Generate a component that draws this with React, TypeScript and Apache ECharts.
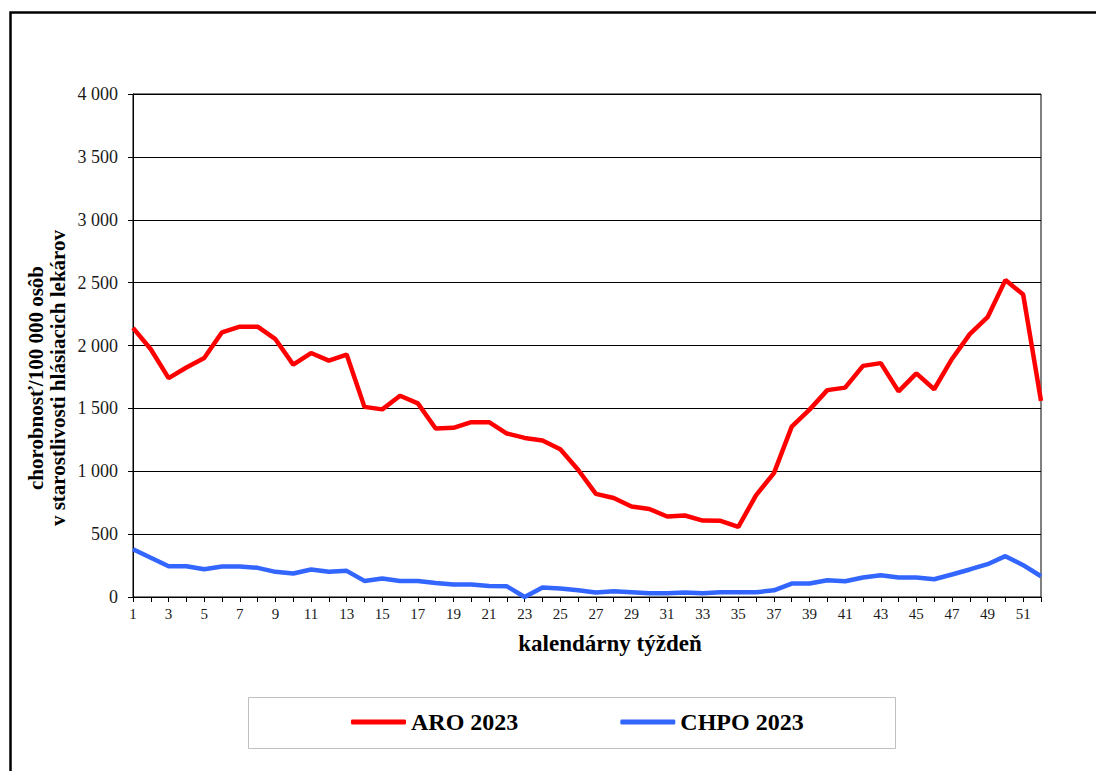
import React, { useEffect, useRef } from "react";
import * as echarts from "echarts";

const weeks = [
  "1", "2", "3", "4", "5", "6", "7", "8", "9", "10",
  "11", "12", "13", "14", "15", "16", "17", "18", "19", "20",
  "21", "22", "23", "24", "25", "26", "27", "28", "29", "30",
  "31", "32", "33", "34", "35", "36", "37", "38", "39", "40",
  "41", "42", "43", "44", "45", "46", "47", "48", "49", "50",
  "51", "52",
];

const aro2023 = [
  2140, 1970, 1740, 1825, 1900, 2105, 2150, 2150, 2050, 1848,
  1940, 1880, 1928, 1512, 1492, 1600, 1540, 1340, 1345, 1390,
  1390, 1300, 1265, 1245, 1175, 1012, 820, 787, 720, 700,
  640, 648, 608, 606, 558, 810, 985, 1355, 1490, 1645,
  1665, 1838, 1860, 1635, 1778, 1652, 1893, 2090, 2225, 2520,
  2405, 1560,
];

const chpo2023 = [
  380, 312, 245, 245, 220, 243, 243, 232, 200, 187,
  219, 200, 208, 128, 147, 128, 128, 112, 100, 99,
  88, 85, 0, 75, 67, 53, 35, 45, 37, 29,
  29, 35, 29, 37, 37, 38, 53, 107, 107, 133,
  125, 155, 173, 155, 155, 141, 179, 219, 261, 325,
  253, 165,
];

const seriesNames = ["ARO 2023", "CHPO 2023"];
const yAxisTitle = "chorobnosť/100 000 osôb\nv starostlivosti hlásiacich lekárov";
const xAxisTitle = "kalendárny týždeň";

const FONT = "Liberation Serif, serif";

function fmt(v: number): string {
  if (v >= 1000) {
    const th = Math.floor(v / 1000);
    const rest = String(v % 1000).padStart(3, "0");
    return `${th} ${rest}`;
  }
  return String(v);
}

export default function App() {
  const ref = useRef<HTMLDivElement>(null);
  useEffect(() => {
    if (!ref.current) return;
    const chart = echarts.init(ref.current, undefined, { renderer: "svg" });
    chart.setOption({
      animation: false,
      backgroundColor: "#ffffff",
      textStyle: { fontFamily: FONT },
      grid: {
        left: 133,
        right: 55,
        top: 94,
        bottom: 174,
        show: true,
        borderColor: "#000",
        borderWidth: 1,
        backgroundColor: "transparent",
      },
      legend: {
        data: seriesNames,
        left: 351,
        top: 710,
        padding: 0,
        itemWidth: 55,
        itemHeight: 5,
        itemGap: 102,
        icon: "roundRect",
        textStyle: {
          fontFamily: FONT,
          fontWeight: "bold",
          fontSize: 24,
          color: "#000",
        },
      },
      xAxis: {
        type: "category",
        data: weeks,
        boundaryGap: false,
        name: xAxisTitle,
        nameLocation: "middle",
        nameGap: 35,
        nameTextStyle: {
          fontFamily: FONT,
          fontWeight: "bold",
          fontSize: 23,
          color: "#000",
          padding: [0, 0, 0, 46],
        },
        axisLine: { lineStyle: { color: "#000", width: 1 } },
        axisTick: {
          show: true,
          interval: 0,
          length: 5,
          lineStyle: { color: "#000" },
        },
        axisLabel: {
          interval: 1,
          margin: 9,
          fontFamily: FONT,
          fontSize: 15,
          color: "#1a1a1a",
        },
        splitLine: { show: false },
      },
      yAxis: {
        type: "value",
        min: 0,
        max: 4000,
        interval: 500,
        axisLine: { show: true, lineStyle: { color: "#000", width: 1 } },
        axisTick: { show: true, length: 5, lineStyle: { color: "#000" } },
        axisLabel: {
          margin: 15,
          fontFamily: FONT,
          fontSize: 18,
          color: "#1a1a1a",
          formatter: (v: number) => fmt(v),
        },
        splitLine: { show: true, lineStyle: { color: "#000", width: 1 } },
      },
      series: [
        {
          name: seriesNames[0],
          type: "line",
          data: aro2023,
          symbol: "none",
          lineStyle: { color: "#ff0000", width: 4.5 },
          itemStyle: { color: "#ff0000" },
          z: 3,
        },
        {
          name: seriesNames[1],
          type: "line",
          data: chpo2023,
          symbol: "none",
          lineStyle: { color: "#3366ff", width: 4.5 },
          itemStyle: { color: "#3366ff" },
          z: 3,
        },
      ],
      graphic: [
        {
          type: "rect",
          silent: true,
          z: -10,
          shape: { x: 10.5, y: 12.5, width: 1200, height: 1000 },
          style: { fill: "none", stroke: "#000", lineWidth: 2.5 },
        },
        {
          type: "rect",
          silent: true,
          shape: { x: 248.5, y: 697.5, width: 647, height: 51 },
          style: { fill: "none", stroke: "#c0c0c0", lineWidth: 1 },
        },
        {
          type: "text",
          silent: true,
          x: 47,
          y: 378,
          rotation: Math.PI / 2,
          style: {
            text: yAxisTitle,
            fontFamily: FONT,
            fontWeight: "bold",
            fontSize: 21,
            lineHeight: 22,
            fill: "#000",
            align: "center",
            verticalAlign: "middle",
            textAlign: "center",
            textVerticalAlign: "middle",
          },
        },
      ],
    });
    return () => chart.dispose();
  }, []);
  return (
    <div
      ref={ref}
      style={{ position: "absolute", left: 0, top: 0, width: 1096, height: 771 }}
    />
  );
}
